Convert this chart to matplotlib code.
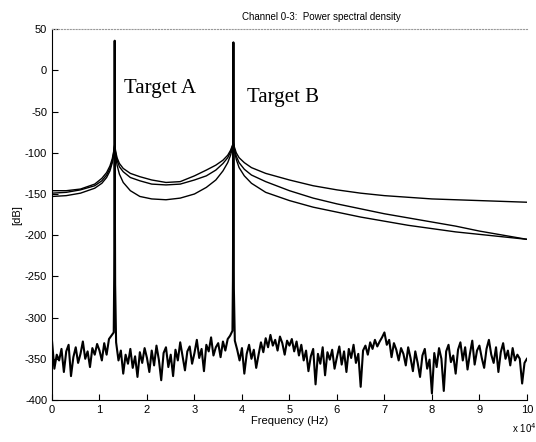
import numpy as np
import matplotlib
matplotlib.use("Agg")
import matplotlib.pyplot as plt

plt.rcParams["axes.unicode_minus"] = False

# smooth model spectra (3 channels)
curve_freq = [0, 0.3, 0.6, 0.9, 1.05, 1.15, 1.22, 1.27, 1.3, 1.32, 1.34, 1.37, 1.42, 1.5,
              1.65, 1.85, 2.1, 2.4, 2.7, 3.0, 3.25, 3.45, 3.6, 3.7, 3.76, 3.8, 3.82, 3.84,
              3.88, 3.94, 4.05, 4.2, 4.5, 5.0, 5.5, 6.0, 6.5, 7.0, 7.5, 8.0, 8.5, 9.0, 9.5, 10.0]
chan_top = [-146, -146, -144, -138, -131, -124, -116, -107, -98, -90, -98, -106, -113, -119,
            -125, -129, -133, -136, -135, -128, -121, -115, -109, -103, -97, -91, -88, -93,
            -100, -106, -112, -118, -125, -133, -140, -145, -149, -152, -154, -156, -157, -158, -159, -160]
chan_mid = [-149, -148, -145, -140, -134, -127, -119, -110, -100, -91, -100, -109, -117, -123,
            -130, -134, -138, -139, -138, -133, -128, -121, -113, -106, -99, -92, -89, -95,
            -104, -112, -120, -127, -135, -146, -155, -162, -168, -174, -179, -184, -189, -195, -200, -205]
chan_low = [-153, -152, -149, -143, -137, -130, -122, -112, -102, -92, -103, -115, -126, -136,
            -146, -153, -156, -157, -155, -150, -142, -133, -122, -112, -103, -94, -90, -97,
            -108, -118, -128, -137, -148, -158, -166, -172, -178, -183, -188, -192, -196, -199, -202, -205]

# measured periodogram: noise floor every 0.05 Hz (x1e4)
noise_freq = np.linspace(0, 10, 201)
noise_db = [
    -328, -362, -345, -352, -338, -366, -341, -333, -371, -348, -336, -355, -344, -329, -350, -341, -360, -337, -345, -332,
    -340, -352, -331, -345, -326, -322, -318, -330, -352, -340, -368, -345, -356, -338, -361, -347, -372, -342, -355, -337,
    -349, -366, -340, -358, -334, -351, -376, -343, -336, -360, -345, -371, -339, -352, -330, -347, -364, -341, -335, -356,
    -343, -327, -349, -338, -365, -333, -341, -324, -346, -336, -331, -348, -329, -340, -326, -322, -316, -328, -339, -352,
    -337, -368, -344, -333, -350, -339, -361, -345, -330, -342, -325, -336, -321, -334, -327, -340, -323, -331, -345, -328,
    -334, -326, -341, -329, -346, -333, -352, -340, -365, -347, -338, -381, -344, -356, -336, -370, -342, -351, -339, -362,
    -348, -335, -357, -341, -366, -338, -349, -333, -355, -344, -384, -340, -334, -345, -330, -338, -327, -335, -329, -324,
    -318, -333, -327, -348, -331, -339, -352, -337, -344, -358, -336, -349, -365, -341, -355, -372, -346, -338, -362, -351,
    -392, -343, -360, -337, -350, -389, -341, -333, -354, -346, -368, -339, -330, -352, -336, -363, -344, -328, -357, -340,
    -334, -349, -361, -338, -327, -345, -355, -336, -366, -342, -331, -350, -340, -358, -337, -352, -345, -350, -380, -355, -350,
]
# the two target lines
peak_freq = [1.31, 1.318, 1.32, 1.322, 1.33, 3.81, 3.818, 3.82, 3.822, 3.83]
peak_db = [-250, -120, 36, -120, -260, -255, -120, 34, -120, -265]

freq = np.concatenate([noise_freq, peak_freq])
psd = np.concatenate([noise_db, peak_db])
order = np.argsort(freq, kind="stable")
freq, psd = freq[order], psd[order]

fig = plt.figure(figsize=(5.36, 4.42), dpi=100)
ax = fig.add_axes([0.097, 0.095, 0.886, 0.839])

ax.plot(freq, psd, color="black", lw=1.5)
for c in (chan_top, chan_mid, chan_low):
    ax.plot(curve_freq, c, color="black", lw=1.0)

ax.set_xlim(0, 10)
ax.set_ylim(-400, 50)
ax.set_xticks(range(0, 11))
ax.set_yticks(range(-400, 51, 50))
ax.tick_params(direction="in", length=4, labelsize=8, width=0.8)
for lab in ax.get_xticklabels() + ax.get_yticklabels():
    lab.set_family("Liberation Sans")

ax.spines["right"].set_visible(False)
ax.spines["top"].set_linestyle(":")
ax.spines["top"].set_color("#999999")

ax.set_xlabel("Frequency (Hz)", fontsize=8, family="Liberation Sans", labelpad=1)
ax.set_ylabel("[dB]", fontsize=8, family="Liberation Sans", labelpad=2)

ax.text(1.52, -22, "Target A", fontsize=15, family="Liberation Serif", va="center")
ax.text(4.1, -33, "Target B", fontsize=15, family="Liberation Serif", va="center")

fig.text(0.60, 0.962, "Channel 0-3:  Power spectral density", fontsize=7,
         family="Liberation Sans", ha="center", va="center")
fig.text(0.955, 0.02, r"x 10$^{4}$", fontsize=7, family="Liberation Sans", ha="left")

fig.savefig("out.png", dpi=100)
